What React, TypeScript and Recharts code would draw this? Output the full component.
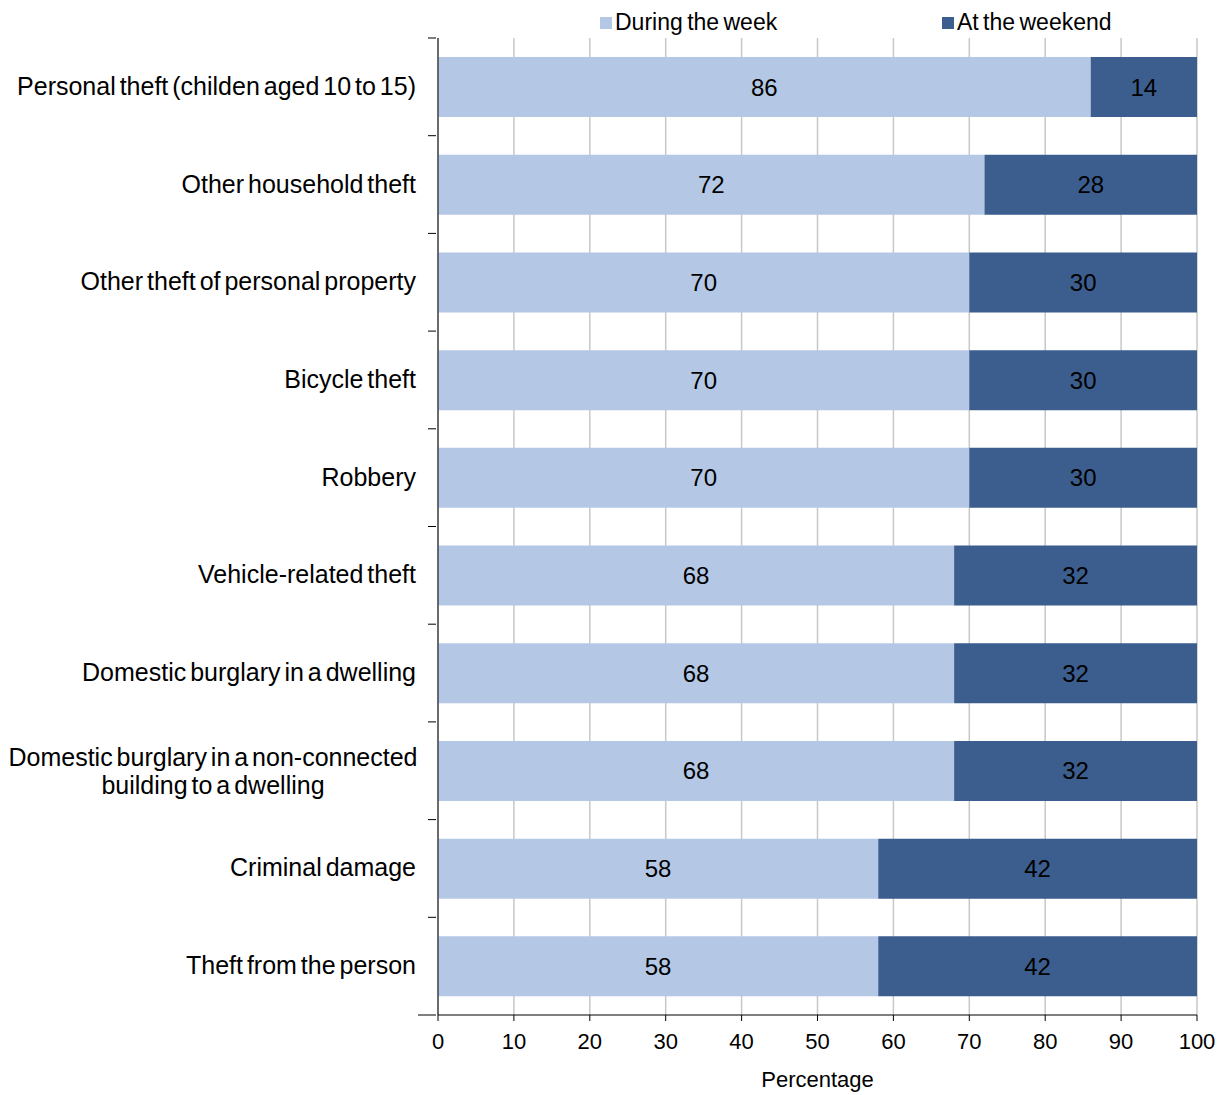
import React from "react";
import { Bar, BarChart, CartesianGrid, LabelList, XAxis, YAxis } from "recharts";

const categories = [
  "Personal theft (childen aged 10 to 15)",
  "Other household theft",
  "Other theft of personal property",
  "Bicycle theft",
  "Robbery",
  "Vehicle-related theft",
  "Domestic burglary in a dwelling",
  "Domestic burglary in a non-connected building to a dwelling",
  "Criminal damage",
  "Theft from the person",
];

const duringWeek = [86, 72, 70, 70, 70, 68, 68, 68, 58, 58];
const atWeekend = [14, 28, 30, 30, 30, 32, 32, 32, 42, 42];

const xTicks = [0, 10, 20, 30, 40, 50, 60, 70, 80, 90, 100];

// labels that wrap onto two lines
const wrapped: Record<string, string[]> = {
  "Domestic burglary in a non-connected building to a dwelling": [
    "Domestic burglary in a non-connected",
    "building to a dwelling",
  ],
};

const data = categories.map((name, i) => ({
  name,
  week: duringWeek[i],
  weekend: atWeekend[i],
}));

const FONT = "'Liberation Sans', Arial, sans-serif";
const LIGHT = "#b4c8e6";
const DARK = "#3b5e8f";
// half the width of a wrapped label block, so its lines centre on each other
const WRAP_HALF = 203;

const CategoryTick = (props: any) => {
  const { x, y, payload, index } = props;
  const half = payload?.offset ?? 48.85;
  const lines = wrapped[payload.value];
  const axisX = x + 12;
  const textX = x - 8;
  return (
    <g>
      <line x1={axisX - 8} x2={axisX} y1={y - half} y2={y - half} stroke="#000" />
      {index === categories.length - 1 && (
        <line x1={axisX - 18} x2={axisX} y1={y + half} y2={y + half} stroke="#000" />
      )}
      {lines ? (
        <text
          x={textX - WRAP_HALF}
          y={y}
          textAnchor="middle"
          fontSize={25}
          fontFamily={FONT}
          fill="#000"
          wordSpacing={-3}
        >
          {lines.map((l: string, k: number) => (
            <tspan key={k} x={textX - WRAP_HALF} dy={k === 0 ? -5 : 28}>
              {l}
            </tspan>
          ))}
        </text>
      ) : (
        <text
          x={textX}
          y={y}
          dy={8}
          textAnchor="end"
          fontSize={25}
          fontFamily={FONT}
          fill="#000"
          wordSpacing={-3}
        >
          {payload.value}
        </text>
      )}
    </g>
  );
};

const legendItems = [
  { label: "During the week", color: LIGHT, left: 600 },
  { label: "At the weekend", color: DARK, left: 942 },
];

const ChartLegend = () => (
  <>
    {legendItems.map((item) => (
      <div
        key={item.label}
        style={{
          position: "absolute",
          left: item.left,
          top: 9,
          display: "flex",
          alignItems: "center",
          whiteSpace: "nowrap",
          fontFamily: FONT,
          fontSize: 23,
          wordSpacing: -2,
          color: "#000",
        }}
      >
        <span
          style={{
            width: 12,
            height: 12,
            background: item.color,
            display: "inline-block",
            marginRight: 3,
          }}
        />
        {item.label}
      </div>
    ))}
  </>
);

export default function App() {
  return (
    <div
      style={{
        position: "absolute",
        left: 0,
        top: 0,
        width: 1220,
        height: 1095,
        background: "#fff",
      }}
    >
      <BarChart
        width={1220}
        height={1095}
        data={data}
        layout="vertical"
        barCategoryGap="19.5%"
        margin={{ top: 38, right: 23, left: 0, bottom: 0 }}
      >
        <CartesianGrid horizontal={false} stroke="#c8c8c8" strokeWidth={1.5} />
        <XAxis
          type="number"
          domain={[0, 100]}
          ticks={xTicks}
          interval={0}
          height={80}
          stroke="#000"
          tickSize={6}
          tickMargin={12}
          tick={{ fill: "#000", fontSize: 22, fontFamily: FONT }}
          label={{
            value: "Percentage",
            position: "insideBottom",
            offset: 8,
            fill: "#000",
            fontSize: 22,
            fontFamily: FONT,
          }}
        />
        <YAxis
          type="category"
          dataKey="name"
          width={438}
          stroke="#000"
          tickLine={false}
          tickSize={12}
          interval={0}
          tick={<CategoryTick />}
        />
        <Bar dataKey="week" stackId="a" fill={LIGHT} isAnimationActive={false}>
          <LabelList
            dataKey="week"
            position="center"
            fill="#000"
            fontSize={24}
            fontFamily={FONT}
          />
        </Bar>
        <Bar dataKey="weekend" stackId="a" fill={DARK} isAnimationActive={false}>
          <LabelList
            dataKey="weekend"
            position="center"
            fill="#000"
            fontSize={24}
            fontFamily={FONT}
          />
        </Bar>
      </BarChart>
      <ChartLegend />
    </div>
  );
}
